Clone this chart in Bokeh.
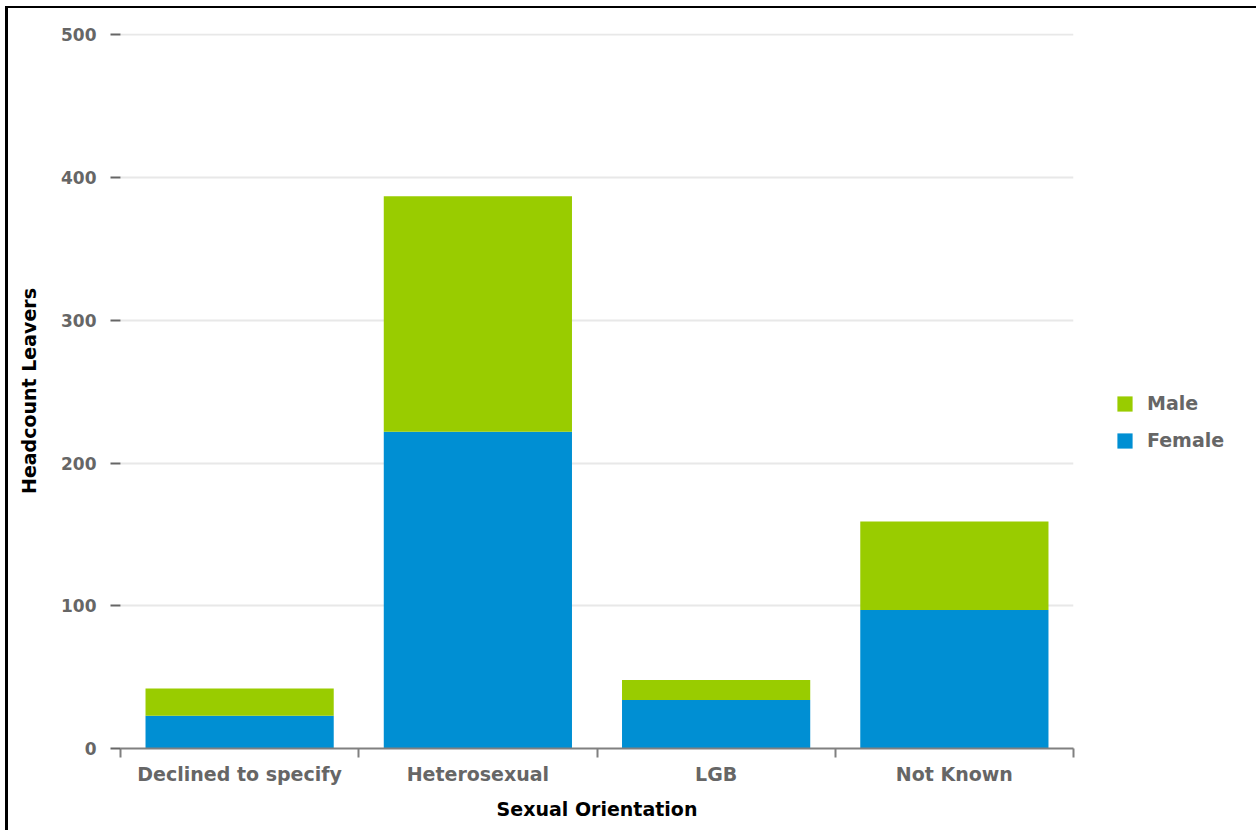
from bokeh.plotting import figure
from bokeh.models import Range1d, FixedTicker, Legend, LegendItem, ColumnDataSource
from bokeh.embed import file_html
from bokeh.resources import INLINE

categories = ["Declined to specify", "Heterosexual", "LGB", "Not Known"]
female = [23, 222, 34, 97]
male = [19, 165, 14, 62]
series = ["female", "male"]
series_labels = {"female": "Female", "male": "Male"}
colors = ["#008FD3", "#99CC00"]
y_ticks = [0, 100, 200, 300, 400, 500]

FONT = "DejaVu Sans"
GREY = "#666666"

x_pos = [i + 0.5 for i in range(len(categories))]
src = ColumnDataSource(dict(x=x_pos, female=female, male=male))

p = figure(frame_width=953, frame_height=715, output_backend="svg", toolbar_location=None,
           x_range=Range1d(0, len(categories)), y_range=Range1d(0, max(y_ticks) + 1),
           min_border_left=120, min_border_right=183, min_border_top=33, min_border_bottom=82)
p.outline_line_color = None
p.background_fill_color = "white"
p.border_fill_alpha = 0
p.styles = {
    "background": ("linear-gradient(#000,#000) 5px 6px / 3px 100% no-repeat, "
                   "linear-gradient(#000,#000) 5px 6px / 100% 2px no-repeat, #ffffff"),
}

rs = p.vbar_stack(series, x="x", width=0.79, source=src, fill_color=colors,
                  line_color=None)

# x axis
xa = p.xaxis[0]
xa.ticker = FixedTicker(ticks=x_pos, minor_ticks=list(range(len(categories) + 1)))
xa.major_label_overrides = {x: c for x, c in zip(x_pos, categories)}
xa.major_tick_out = 0
xa.major_tick_in = 0
xa.minor_tick_out = 9
xa.minor_tick_in = 0
xa.minor_tick_line_color = "#808080"
xa.minor_tick_line_width = 2
xa.axis_line_color = "#808080"
xa.axis_line_width = 2
xa.major_label_text_font = FONT
xa.major_label_text_font_style = "bold"
xa.major_label_text_font_size = "19px"
xa.major_label_text_color = GREY
xa.major_label_standoff = 5
xa.axis_label = "Sexual Orientation"
xa.axis_label_text_font = FONT
xa.axis_label_text_font_style = "bold"
xa.axis_label_text_font_size = "19px"
xa.axis_label_text_color = "black"
xa.axis_label_standoff = 10

# y axis
ya = p.yaxis[0]
ya.ticker = FixedTicker(ticks=y_ticks)
ya.axis_line_color = None
ya.major_tick_out = 10
ya.major_tick_in = 0
ya.minor_tick_out = 0
ya.minor_tick_in = 0
ya.major_tick_line_color = GREY
ya.major_tick_line_width = 2
ya.major_label_text_font = FONT
ya.major_label_text_font_style = "bold"
ya.major_label_text_font_size = "17px"
ya.major_label_text_color = GREY
ya.major_label_standoff = 14
ya.axis_label = "Headcount Leavers"
ya.axis_label_text_font = FONT
ya.axis_label_text_font_style = "bold"
ya.axis_label_text_font_size = "19px"
ya.axis_label_text_color = "black"
ya.axis_label_standoff = 18

p.xgrid.visible = False
p.ygrid.grid_line_color = "#e8e8e8"
p.ygrid.grid_line_width = 2

legend = Legend(
    items=[LegendItem(label=series_labels[s], renderers=[r]) for s, r in reversed(list(zip(series, rs)))],
    location=(42, 297), orientation="vertical",
    glyph_width=19, glyph_height=19, label_standoff=13, spacing=15,
    padding=0, margin=0, border_line_color=None, background_fill_alpha=0,
    label_text_font=FONT, label_text_font_style="bold", label_text_font_size="19px",
    label_text_color=GREY,
)
p.add_layout(legend, "right")

open("out.html", "w").write(file_html(p, INLINE))
